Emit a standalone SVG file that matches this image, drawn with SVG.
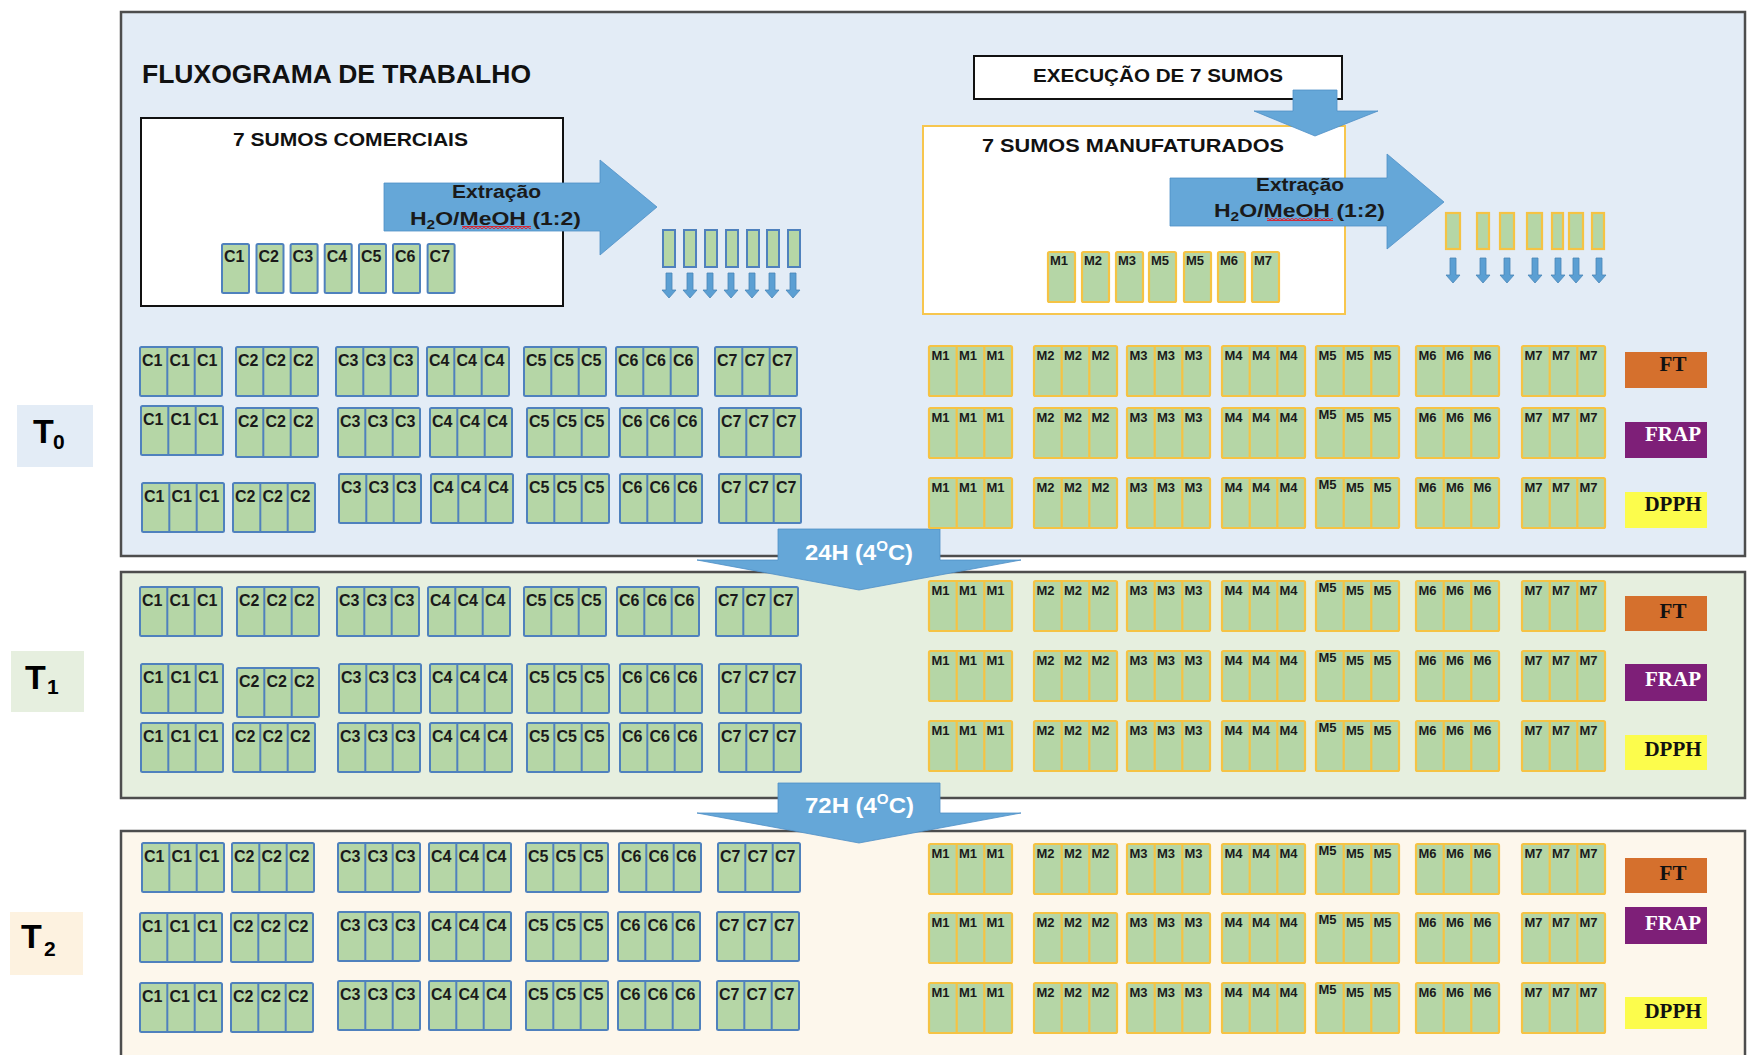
<svg xmlns="http://www.w3.org/2000/svg" xmlns:xlink="http://www.w3.org/1999/xlink" width="1748" height="1055" viewBox="0 0 1748 1055">
<style>
.pan{stroke:#4d4d4d;stroke-width:2.5}
.hd{font-family:'Liberation Sans',Arial,sans-serif;font-weight:bold;fill:#111}
.ct{font-family:'Liberation Sans',Arial,sans-serif;font-weight:bold;font-size:16px;fill:#1a1a1a}
.mt{font-family:'Liberation Sans',Arial,sans-serif;font-weight:bold;font-size:13px;fill:#1a1a1a}
.arr{fill:#65a7d8;stroke:#4f8fc6;stroke-width:0.8}
.at{font-family:'Liberation Sans',Arial,sans-serif;font-weight:bold;fill:#1a1a1a;font-size:18px}
.wt{font-family:'Liberation Sans',Arial,sans-serif;font-weight:bold;fill:#fff;font-size:22px}
.tl{font-family:'Liberation Sans',Arial,sans-serif;font-weight:bold;fill:#000}
.lb{font-family:'Liberation Serif','Times New Roman',serif;font-weight:bold;font-size:21px;text-anchor:middle}
.ctube{fill:#b5d6a6;stroke:#4f81bd;stroke-width:2}
.mtube{fill:#b5d6a6;stroke:#f5c344;stroke-width:2.2}
.sa{fill:#5b9fd3;stroke:#4a86b8;stroke-width:0.8}
</style>
<defs>
<g id="c3" fill="#b5d6a6" stroke="#4f81bd" stroke-width="2"><rect x="0" y="0" width="82" height="49" rx="1.5"/><line x1="27.3" y1="0" x2="27.3" y2="49"/><line x1="54.7" y1="0" x2="54.7" y2="49"/></g>
<g id="m3" fill="#b5d6a6" stroke="#f5c344" stroke-width="2.2"><rect x="0" y="0" width="83" height="50" rx="1.5"/><line x1="27.7" y1="0" x2="27.7" y2="50"/><line x1="55.3" y1="0" x2="55.3" y2="50"/></g>
<path id="da" d="M-3,0 H3 V17 H7 L0,25 L-7,17 H-3 Z"/>
<pattern id="wavy" width="4" height="3" patternUnits="userSpaceOnUse"><path d="M0,2.5 L2,0.5 L4,2.5" fill="none" stroke="#e8141c" stroke-width="1.3"/></pattern>
</defs>

<g id="panels">
<rect id="panel-t0" class="pan" x="121" y="12" width="1624" height="544" fill="#e3ecf6"/>
<rect id="panel-t1" class="pan" x="121" y="572" width="1624" height="226" fill="#e6efdf"/>
<rect id="panel-t2" class="pan" x="121" y="831" width="1624" height="232" fill="#fdf7ec"/>
</g>

<g id="tlabels">
<g id="label-t0"><rect x="17" y="405" width="76" height="62" fill="#e3ecf6"/><text class="tl" x="33" y="443" font-size="34">T</text><text class="tl" x="53" y="449" font-size="21">0</text></g>
<g id="label-t1"><rect x="11" y="651" width="73" height="61" fill="#e6efdf"/><text class="tl" x="25" y="689" font-size="34">T</text><text class="tl" x="47" y="694" font-size="21">1</text></g>
<g id="label-t2"><rect x="10" y="912" width="73" height="63" fill="#fdf2e0"/><text class="tl" x="21" y="948" font-size="34">T</text><text class="tl" x="44" y="956" font-size="21">2</text></g>
</g>

<text id="title" class="hd" x="142" y="83" font-size="25" textLength="389" lengthAdjust="spacingAndGlyphs">FLUXOGRAMA DE TRABALHO</text>

<g id="box-comerciais">
<rect x="141" y="118" width="422" height="188" fill="#fff" stroke="#111" stroke-width="2"/>
<text class="hd" x="233" y="146" font-size="18" textLength="235" lengthAdjust="spacingAndGlyphs">7 SUMOS COMERCIAIS</text>
<g id="tubes-c">
<rect class="ctube" x="222" y="244" width="27" height="49" rx="1.5"/><text class="ct" x="224" y="262">C1</text>
<rect class="ctube" x="256.5" y="244" width="27" height="49" rx="1.5"/><text class="ct" x="258.5" y="262">C2</text>
<rect class="ctube" x="290.6" y="244" width="27" height="49" rx="1.5"/><text class="ct" x="292.6" y="262">C3</text>
<rect class="ctube" x="324.7" y="244" width="27" height="49" rx="1.5"/><text class="ct" x="326.7" y="262">C4</text>
<rect class="ctube" x="359" y="244" width="27" height="49" rx="1.5"/><text class="ct" x="361" y="262">C5</text>
<rect class="ctube" x="393" y="244" width="27" height="49" rx="1.5"/><text class="ct" x="395" y="262">C6</text>
<rect class="ctube" x="427.6" y="244" width="27" height="49" rx="1.5"/><text class="ct" x="429.6" y="262">C7</text>
</g>
</g>

<g id="box-execucao">
<rect x="974" y="56" width="368" height="43" fill="#fff" stroke="#111" stroke-width="2"/>
<text class="hd" x="1033" y="82" font-size="18" textLength="250" lengthAdjust="spacingAndGlyphs">EXECUÇÃO DE 7 SUMOS</text>
</g>

<g id="box-manufaturados">
<rect x="923" y="126" width="422" height="188" fill="#fff" stroke="#f7c64e" stroke-width="2"/>
<text class="hd" x="982" y="152" font-size="18" textLength="302" lengthAdjust="spacingAndGlyphs">7 SUMOS MANUFATURADOS</text>
<g id="tubes-m">
<rect class="mtube" x="1048" y="252" width="27" height="50" rx="1.5"/><text class="mt" x="1050" y="265">M1</text>
<rect class="mtube" x="1082" y="252" width="27" height="50" rx="1.5"/><text class="mt" x="1084" y="265">M2</text>
<rect class="mtube" x="1116" y="252" width="27" height="50" rx="1.5"/><text class="mt" x="1118" y="265">M3</text>
<rect class="mtube" x="1149" y="252" width="27" height="50" rx="1.5"/><text class="mt" x="1151" y="265">M5</text>
<rect class="mtube" x="1184" y="252" width="27" height="50" rx="1.5"/><text class="mt" x="1186" y="265">M5</text>
<rect class="mtube" x="1218" y="252" width="27" height="50" rx="1.5"/><text class="mt" x="1220" y="265">M6</text>
<rect class="mtube" x="1252" y="252" width="27" height="50" rx="1.5"/><text class="mt" x="1254" y="265">M7</text>
</g>
</g>

<g id="extracts-c">
<rect class="ctube" x="663" y="230" width="12" height="37"/>
<rect class="ctube" x="684" y="230" width="12" height="37"/>
<rect class="ctube" x="705" y="230" width="12" height="37"/>
<rect class="ctube" x="726" y="230" width="12" height="37"/>
<rect class="ctube" x="747" y="230" width="12" height="37"/>
<rect class="ctube" x="767" y="230" width="12" height="37"/>
<rect class="ctube" x="788" y="230" width="12" height="37"/>
</g>
<g id="extracts-m">
<rect class="mtube" x="1446" y="213" width="14" height="36"/>
<rect class="mtube" x="1477" y="213" width="12" height="36"/>
<rect class="mtube" x="1500" y="213" width="14" height="36"/>
<rect class="mtube" x="1527" y="213" width="15" height="36"/>
<rect class="mtube" x="1552" y="213" width="11" height="36"/>
<rect class="mtube" x="1569" y="213" width="14" height="36"/>
<rect class="mtube" x="1592" y="213" width="12" height="36"/>
</g>

<g id="connectors">
<path id="arrow-extr-c" class="arr" d="M384,183 H600 V160 L657,207 L600,255 V231 H384 Z"/>
<path id="arrow-extr-m" class="arr" d="M1170,178 H1387 V154 L1444,202 L1387,249 V226 H1170 Z"/>
<path id="arrow-exec" class="arr" d="M1293,90 H1337 V111 H1378 L1315,136 L1254,111 H1293 Z"/>
<path id="arrow-24h" class="arr" d="M778,529 H940 V560 H1021 L859,590 L697,560 H778 Z"/>
<path id="arrow-72h" class="arr" d="M778,783 H940 V813 H1021 L859,843 L697,813 H778 Z"/>
<g id="small-arrows-c" class="sa">
<use href="#da" x="669" y="273"/><use href="#da" x="690" y="273"/><use href="#da" x="710" y="273"/><use href="#da" x="731" y="273"/><use href="#da" x="752" y="273"/><use href="#da" x="772" y="273"/><use href="#da" x="793" y="273"/>
</g>
<g id="small-arrows-m" class="sa">
<use href="#da" x="1453" y="258"/><use href="#da" x="1483" y="258"/><use href="#da" x="1507" y="258"/><use href="#da" x="1535" y="258"/><use href="#da" x="1558" y="258"/><use href="#da" x="1576" y="258"/><use href="#da" x="1599" y="258"/>
</g>
</g>

<g id="arrow-labels">
<text class="at" x="452" y="198" textLength="89" lengthAdjust="spacingAndGlyphs">Extração</text>
<text class="at" x="410" y="225" textLength="171" lengthAdjust="spacingAndGlyphs">H<tspan font-size="12" dy="4">2</tspan><tspan dy="-4">O/MeOH (1:2)</tspan></text>
<rect x="462" y="226" width="69" height="3" fill="url(#wavy)"/>
<text class="at" x="1256" y="191" textLength="88" lengthAdjust="spacingAndGlyphs">Extração</text>
<text class="at" x="1214" y="217" textLength="171" lengthAdjust="spacingAndGlyphs">H<tspan font-size="12" dy="4">2</tspan><tspan dy="-4">O/MeOH (1:2)</tspan></text>
<rect x="1267" y="218" width="66" height="3" fill="url(#wavy)"/>
<text class="wt" x="805" y="560" textLength="108" lengthAdjust="spacingAndGlyphs">24H (4<tspan font-size="14" dy="-9">O</tspan><tspan dy="9">C)</tspan></text>
<text class="wt" x="805" y="813" textLength="109" lengthAdjust="spacingAndGlyphs">72H (4<tspan font-size="14" dy="-9">O</tspan><tspan dy="9">C)</tspan></text>
</g>

<g id="grid-t0">
<g id="t0-r1-c1" transform="translate(140,347)"><use href="#c3"/><text class="ct" y="19"><tspan x="2">C1</tspan><tspan x="29.5">C1</tspan><tspan x="57">C1</tspan></text></g>
<g id="t0-r1-c2" transform="translate(236,347)"><use href="#c3"/><text class="ct" y="19"><tspan x="2">C2</tspan><tspan x="29.5">C2</tspan><tspan x="57">C2</tspan></text></g>
<g id="t0-r1-c3" transform="translate(336,347)"><use href="#c3"/><text class="ct" y="19"><tspan x="2">C3</tspan><tspan x="29.5">C3</tspan><tspan x="57">C3</tspan></text></g>
<g id="t0-r1-c4" transform="translate(427,347)"><use href="#c3"/><text class="ct" y="19"><tspan x="2">C4</tspan><tspan x="29.5">C4</tspan><tspan x="57">C4</tspan></text></g>
<g id="t0-r1-c5" transform="translate(524,347)"><use href="#c3"/><text class="ct" y="19"><tspan x="2">C5</tspan><tspan x="29.5">C5</tspan><tspan x="57">C5</tspan></text></g>
<g id="t0-r1-c6" transform="translate(616,347)"><use href="#c3"/><text class="ct" y="19"><tspan x="2">C6</tspan><tspan x="29.5">C6</tspan><tspan x="57">C6</tspan></text></g>
<g id="t0-r1-c7" transform="translate(715,347)"><use href="#c3"/><text class="ct" y="19"><tspan x="2">C7</tspan><tspan x="29.5">C7</tspan><tspan x="57">C7</tspan></text></g>
<g id="t0-r2-c1" transform="translate(141,406)"><use href="#c3"/><text class="ct" y="19"><tspan x="2">C1</tspan><tspan x="29.5">C1</tspan><tspan x="57">C1</tspan></text></g>
<g id="t0-r2-c2" transform="translate(236,408)"><use href="#c3"/><text class="ct" y="19"><tspan x="2">C2</tspan><tspan x="29.5">C2</tspan><tspan x="57">C2</tspan></text></g>
<g id="t0-r2-c3" transform="translate(338,408)"><use href="#c3"/><text class="ct" y="19"><tspan x="2">C3</tspan><tspan x="29.5">C3</tspan><tspan x="57">C3</tspan></text></g>
<g id="t0-r2-c4" transform="translate(430,408)"><use href="#c3"/><text class="ct" y="19"><tspan x="2">C4</tspan><tspan x="29.5">C4</tspan><tspan x="57">C4</tspan></text></g>
<g id="t0-r2-c5" transform="translate(527,408)"><use href="#c3"/><text class="ct" y="19"><tspan x="2">C5</tspan><tspan x="29.5">C5</tspan><tspan x="57">C5</tspan></text></g>
<g id="t0-r2-c6" transform="translate(620,408)"><use href="#c3"/><text class="ct" y="19"><tspan x="2">C6</tspan><tspan x="29.5">C6</tspan><tspan x="57">C6</tspan></text></g>
<g id="t0-r2-c7" transform="translate(719,408)"><use href="#c3"/><text class="ct" y="19"><tspan x="2">C7</tspan><tspan x="29.5">C7</tspan><tspan x="57">C7</tspan></text></g>
<g id="t0-r3-c1" transform="translate(142,483)"><use href="#c3"/><text class="ct" y="19"><tspan x="2">C1</tspan><tspan x="29.5">C1</tspan><tspan x="57">C1</tspan></text></g>
<g id="t0-r3-c2" transform="translate(233,483)"><use href="#c3"/><text class="ct" y="19"><tspan x="2">C2</tspan><tspan x="29.5">C2</tspan><tspan x="57">C2</tspan></text></g>
<g id="t0-r3-c3" transform="translate(339,474)"><use href="#c3"/><text class="ct" y="19"><tspan x="2">C3</tspan><tspan x="29.5">C3</tspan><tspan x="57">C3</tspan></text></g>
<g id="t0-r3-c4" transform="translate(431,474)"><use href="#c3"/><text class="ct" y="19"><tspan x="2">C4</tspan><tspan x="29.5">C4</tspan><tspan x="57">C4</tspan></text></g>
<g id="t0-r3-c5" transform="translate(527,474)"><use href="#c3"/><text class="ct" y="19"><tspan x="2">C5</tspan><tspan x="29.5">C5</tspan><tspan x="57">C5</tspan></text></g>
<g id="t0-r3-c6" transform="translate(620,474)"><use href="#c3"/><text class="ct" y="19"><tspan x="2">C6</tspan><tspan x="29.5">C6</tspan><tspan x="57">C6</tspan></text></g>
<g id="t0-r3-c7" transform="translate(719,474)"><use href="#c3"/><text class="ct" y="19"><tspan x="2">C7</tspan><tspan x="29.5">C7</tspan><tspan x="57">C7</tspan></text></g>

<g id="t0-r1-m1" transform="translate(929,346)"><use href="#m3"/><text class="mt" y="14"><tspan x="2.5">M1</tspan><tspan x="30">M1</tspan><tspan x="57.5">M1</tspan></text></g>
<g id="t0-r1-m2" transform="translate(1034,346)"><use href="#m3"/><text class="mt" y="14"><tspan x="2.5">M2</tspan><tspan x="30">M2</tspan><tspan x="57.5">M2</tspan></text></g>
<g id="t0-r1-m3" transform="translate(1127,346)"><use href="#m3"/><text class="mt" y="14"><tspan x="2.5">M3</tspan><tspan x="30">M3</tspan><tspan x="57.5">M3</tspan></text></g>
<g id="t0-r1-m4" transform="translate(1222,346)"><use href="#m3"/><text class="mt" y="14"><tspan x="2.5">M4</tspan><tspan x="30">M4</tspan><tspan x="57.5">M4</tspan></text></g>
<g id="t0-r1-m5" transform="translate(1316,346)"><use href="#m3"/><text class="mt" y="14"><tspan x="2.5">M5</tspan><tspan x="30">M5</tspan><tspan x="57.5">M5</tspan></text></g>
<g id="t0-r1-m6" transform="translate(1416,346)"><use href="#m3"/><text class="mt" y="14"><tspan x="2.5">M6</tspan><tspan x="30">M6</tspan><tspan x="57.5">M6</tspan></text></g>
<g id="t0-r1-m7" transform="translate(1522,346)"><use href="#m3"/><text class="mt" y="14"><tspan x="2.5">M7</tspan><tspan x="30">M7</tspan><tspan x="57.5">M7</tspan></text></g>
<g id="t0-r2-m1" transform="translate(929,408)"><use href="#m3"/><text class="mt" y="14"><tspan x="2.5">M1</tspan><tspan x="30">M1</tspan><tspan x="57.5">M1</tspan></text></g>
<g id="t0-r2-m2" transform="translate(1034,408)"><use href="#m3"/><text class="mt" y="14"><tspan x="2.5">M2</tspan><tspan x="30">M2</tspan><tspan x="57.5">M2</tspan></text></g>
<g id="t0-r2-m3" transform="translate(1127,408)"><use href="#m3"/><text class="mt" y="14"><tspan x="2.5">M3</tspan><tspan x="30">M3</tspan><tspan x="57.5">M3</tspan></text></g>
<g id="t0-r2-m4" transform="translate(1222,408)"><use href="#m3"/><text class="mt" y="14"><tspan x="2.5">M4</tspan><tspan x="30">M4</tspan><tspan x="57.5">M4</tspan></text></g>
<g id="t0-r2-m5" transform="translate(1316,408)"><use href="#m3"/><text class="mt" y="14"><tspan x="2.5" dy="-3">M5</tspan><tspan x="30" dy="3">M5</tspan><tspan x="57.5">M5</tspan></text></g>
<g id="t0-r2-m6" transform="translate(1416,408)"><use href="#m3"/><text class="mt" y="14"><tspan x="2.5">M6</tspan><tspan x="30">M6</tspan><tspan x="57.5">M6</tspan></text></g>
<g id="t0-r2-m7" transform="translate(1522,408)"><use href="#m3"/><text class="mt" y="14"><tspan x="2.5">M7</tspan><tspan x="30">M7</tspan><tspan x="57.5">M7</tspan></text></g>
<g id="t0-r3-m1" transform="translate(929,478)"><use href="#m3"/><text class="mt" y="14"><tspan x="2.5">M1</tspan><tspan x="30">M1</tspan><tspan x="57.5">M1</tspan></text></g>
<g id="t0-r3-m2" transform="translate(1034,478)"><use href="#m3"/><text class="mt" y="14"><tspan x="2.5">M2</tspan><tspan x="30">M2</tspan><tspan x="57.5">M2</tspan></text></g>
<g id="t0-r3-m3" transform="translate(1127,478)"><use href="#m3"/><text class="mt" y="14"><tspan x="2.5">M3</tspan><tspan x="30">M3</tspan><tspan x="57.5">M3</tspan></text></g>
<g id="t0-r3-m4" transform="translate(1222,478)"><use href="#m3"/><text class="mt" y="14"><tspan x="2.5">M4</tspan><tspan x="30">M4</tspan><tspan x="57.5">M4</tspan></text></g>
<g id="t0-r3-m5" transform="translate(1316,478)"><use href="#m3"/><text class="mt" y="14"><tspan x="2.5" dy="-3">M5</tspan><tspan x="30" dy="3">M5</tspan><tspan x="57.5">M5</tspan></text></g>
<g id="t0-r3-m6" transform="translate(1416,478)"><use href="#m3"/><text class="mt" y="14"><tspan x="2.5">M6</tspan><tspan x="30">M6</tspan><tspan x="57.5">M6</tspan></text></g>
<g id="t0-r3-m7" transform="translate(1522,478)"><use href="#m3"/><text class="mt" y="14"><tspan x="2.5">M7</tspan><tspan x="30">M7</tspan><tspan x="57.5">M7</tspan></text></g>

<g id="t0-ft"><rect x="1625" y="352" width="82" height="36" fill="#d5702d"/><text class="lb" x="1673" y="371" fill="#111">FT</text></g>
<g id="t0-frap"><rect x="1625" y="422" width="82" height="36" fill="#7e1f78"/><text class="lb" x="1673" y="441" fill="#fff">FRAP</text></g>
<g id="t0-dpph"><rect x="1625" y="492" width="82" height="36" fill="#fcfc4c"/><text class="lb" x="1673" y="511" fill="#111">DPPH</text></g>
</g>

<g id="grid-t1">
<g id="t1-r1-c1" transform="translate(140,587)"><use href="#c3"/><text class="ct" y="19"><tspan x="2">C1</tspan><tspan x="29.5">C1</tspan><tspan x="57">C1</tspan></text></g>
<g id="t1-r1-c2" transform="translate(237,587)"><use href="#c3"/><text class="ct" y="19"><tspan x="2">C2</tspan><tspan x="29.5">C2</tspan><tspan x="57">C2</tspan></text></g>
<g id="t1-r1-c3" transform="translate(337,587)"><use href="#c3"/><text class="ct" y="19"><tspan x="2">C3</tspan><tspan x="29.5">C3</tspan><tspan x="57">C3</tspan></text></g>
<g id="t1-r1-c4" transform="translate(428,587)"><use href="#c3"/><text class="ct" y="19"><tspan x="2">C4</tspan><tspan x="29.5">C4</tspan><tspan x="57">C4</tspan></text></g>
<g id="t1-r1-c5" transform="translate(524,587)"><use href="#c3"/><text class="ct" y="19"><tspan x="2">C5</tspan><tspan x="29.5">C5</tspan><tspan x="57">C5</tspan></text></g>
<g id="t1-r1-c6" transform="translate(617,587)"><use href="#c3"/><text class="ct" y="19"><tspan x="2">C6</tspan><tspan x="29.5">C6</tspan><tspan x="57">C6</tspan></text></g>
<g id="t1-r1-c7" transform="translate(716,587)"><use href="#c3"/><text class="ct" y="19"><tspan x="2">C7</tspan><tspan x="29.5">C7</tspan><tspan x="57">C7</tspan></text></g>
<g id="t1-r2-c1" transform="translate(141,664)"><use href="#c3"/><text class="ct" y="19"><tspan x="2">C1</tspan><tspan x="29.5">C1</tspan><tspan x="57">C1</tspan></text></g>
<g id="t1-r2-c2" transform="translate(237,668)"><use href="#c3"/><text class="ct" y="19"><tspan x="2">C2</tspan><tspan x="29.5">C2</tspan><tspan x="57">C2</tspan></text></g>
<g id="t1-r2-c3" transform="translate(339,664)"><use href="#c3"/><text class="ct" y="19"><tspan x="2">C3</tspan><tspan x="29.5">C3</tspan><tspan x="57">C3</tspan></text></g>
<g id="t1-r2-c4" transform="translate(430,664)"><use href="#c3"/><text class="ct" y="19"><tspan x="2">C4</tspan><tspan x="29.5">C4</tspan><tspan x="57">C4</tspan></text></g>
<g id="t1-r2-c5" transform="translate(527,664)"><use href="#c3"/><text class="ct" y="19"><tspan x="2">C5</tspan><tspan x="29.5">C5</tspan><tspan x="57">C5</tspan></text></g>
<g id="t1-r2-c6" transform="translate(620,664)"><use href="#c3"/><text class="ct" y="19"><tspan x="2">C6</tspan><tspan x="29.5">C6</tspan><tspan x="57">C6</tspan></text></g>
<g id="t1-r2-c7" transform="translate(719,664)"><use href="#c3"/><text class="ct" y="19"><tspan x="2">C7</tspan><tspan x="29.5">C7</tspan><tspan x="57">C7</tspan></text></g>
<g id="t1-r3-c1" transform="translate(141,723)"><use href="#c3"/><text class="ct" y="19"><tspan x="2">C1</tspan><tspan x="29.5">C1</tspan><tspan x="57">C1</tspan></text></g>
<g id="t1-r3-c2" transform="translate(233,723)"><use href="#c3"/><text class="ct" y="19"><tspan x="2">C2</tspan><tspan x="29.5">C2</tspan><tspan x="57">C2</tspan></text></g>
<g id="t1-r3-c3" transform="translate(338,723)"><use href="#c3"/><text class="ct" y="19"><tspan x="2">C3</tspan><tspan x="29.5">C3</tspan><tspan x="57">C3</tspan></text></g>
<g id="t1-r3-c4" transform="translate(430,723)"><use href="#c3"/><text class="ct" y="19"><tspan x="2">C4</tspan><tspan x="29.5">C4</tspan><tspan x="57">C4</tspan></text></g>
<g id="t1-r3-c5" transform="translate(527,723)"><use href="#c3"/><text class="ct" y="19"><tspan x="2">C5</tspan><tspan x="29.5">C5</tspan><tspan x="57">C5</tspan></text></g>
<g id="t1-r3-c6" transform="translate(620,723)"><use href="#c3"/><text class="ct" y="19"><tspan x="2">C6</tspan><tspan x="29.5">C6</tspan><tspan x="57">C6</tspan></text></g>
<g id="t1-r3-c7" transform="translate(719,723)"><use href="#c3"/><text class="ct" y="19"><tspan x="2">C7</tspan><tspan x="29.5">C7</tspan><tspan x="57">C7</tspan></text></g>

<g id="t1-r1-m1" transform="translate(929,581)"><use href="#m3"/><text class="mt" y="14"><tspan x="2.5">M1</tspan><tspan x="30">M1</tspan><tspan x="57.5">M1</tspan></text></g>
<g id="t1-r1-m2" transform="translate(1034,581)"><use href="#m3"/><text class="mt" y="14"><tspan x="2.5">M2</tspan><tspan x="30">M2</tspan><tspan x="57.5">M2</tspan></text></g>
<g id="t1-r1-m3" transform="translate(1127,581)"><use href="#m3"/><text class="mt" y="14"><tspan x="2.5">M3</tspan><tspan x="30">M3</tspan><tspan x="57.5">M3</tspan></text></g>
<g id="t1-r1-m4" transform="translate(1222,581)"><use href="#m3"/><text class="mt" y="14"><tspan x="2.5">M4</tspan><tspan x="30">M4</tspan><tspan x="57.5">M4</tspan></text></g>
<g id="t1-r1-m5" transform="translate(1316,581)"><use href="#m3"/><text class="mt" y="14"><tspan x="2.5" dy="-3">M5</tspan><tspan x="30" dy="3">M5</tspan><tspan x="57.5">M5</tspan></text></g>
<g id="t1-r1-m6" transform="translate(1416,581)"><use href="#m3"/><text class="mt" y="14"><tspan x="2.5">M6</tspan><tspan x="30">M6</tspan><tspan x="57.5">M6</tspan></text></g>
<g id="t1-r1-m7" transform="translate(1522,581)"><use href="#m3"/><text class="mt" y="14"><tspan x="2.5">M7</tspan><tspan x="30">M7</tspan><tspan x="57.5">M7</tspan></text></g>
<g id="t1-r2-m1" transform="translate(929,651)"><use href="#m3"/><text class="mt" y="14"><tspan x="2.5">M1</tspan><tspan x="30">M1</tspan><tspan x="57.5">M1</tspan></text></g>
<g id="t1-r2-m2" transform="translate(1034,651)"><use href="#m3"/><text class="mt" y="14"><tspan x="2.5">M2</tspan><tspan x="30">M2</tspan><tspan x="57.5">M2</tspan></text></g>
<g id="t1-r2-m3" transform="translate(1127,651)"><use href="#m3"/><text class="mt" y="14"><tspan x="2.5">M3</tspan><tspan x="30">M3</tspan><tspan x="57.5">M3</tspan></text></g>
<g id="t1-r2-m4" transform="translate(1222,651)"><use href="#m3"/><text class="mt" y="14"><tspan x="2.5">M4</tspan><tspan x="30">M4</tspan><tspan x="57.5">M4</tspan></text></g>
<g id="t1-r2-m5" transform="translate(1316,651)"><use href="#m3"/><text class="mt" y="14"><tspan x="2.5" dy="-3">M5</tspan><tspan x="30" dy="3">M5</tspan><tspan x="57.5">M5</tspan></text></g>
<g id="t1-r2-m6" transform="translate(1416,651)"><use href="#m3"/><text class="mt" y="14"><tspan x="2.5">M6</tspan><tspan x="30">M6</tspan><tspan x="57.5">M6</tspan></text></g>
<g id="t1-r2-m7" transform="translate(1522,651)"><use href="#m3"/><text class="mt" y="14"><tspan x="2.5">M7</tspan><tspan x="30">M7</tspan><tspan x="57.5">M7</tspan></text></g>
<g id="t1-r3-m1" transform="translate(929,721)"><use href="#m3"/><text class="mt" y="14"><tspan x="2.5">M1</tspan><tspan x="30">M1</tspan><tspan x="57.5">M1</tspan></text></g>
<g id="t1-r3-m2" transform="translate(1034,721)"><use href="#m3"/><text class="mt" y="14"><tspan x="2.5">M2</tspan><tspan x="30">M2</tspan><tspan x="57.5">M2</tspan></text></g>
<g id="t1-r3-m3" transform="translate(1127,721)"><use href="#m3"/><text class="mt" y="14"><tspan x="2.5">M3</tspan><tspan x="30">M3</tspan><tspan x="57.5">M3</tspan></text></g>
<g id="t1-r3-m4" transform="translate(1222,721)"><use href="#m3"/><text class="mt" y="14"><tspan x="2.5">M4</tspan><tspan x="30">M4</tspan><tspan x="57.5">M4</tspan></text></g>
<g id="t1-r3-m5" transform="translate(1316,721)"><use href="#m3"/><text class="mt" y="14"><tspan x="2.5" dy="-3">M5</tspan><tspan x="30" dy="3">M5</tspan><tspan x="57.5">M5</tspan></text></g>
<g id="t1-r3-m6" transform="translate(1416,721)"><use href="#m3"/><text class="mt" y="14"><tspan x="2.5">M6</tspan><tspan x="30">M6</tspan><tspan x="57.5">M6</tspan></text></g>
<g id="t1-r3-m7" transform="translate(1522,721)"><use href="#m3"/><text class="mt" y="14"><tspan x="2.5">M7</tspan><tspan x="30">M7</tspan><tspan x="57.5">M7</tspan></text></g>

<g id="t1-ft"><rect x="1625" y="596" width="82" height="35" fill="#d5702d"/><text class="lb" x="1673" y="618" fill="#111">FT</text></g>
<g id="t1-frap"><rect x="1625" y="664" width="82" height="37" fill="#7e1f78"/><text class="lb" x="1673" y="686" fill="#fff">FRAP</text></g>
<g id="t1-dpph"><rect x="1625" y="735" width="82" height="35" fill="#fcfc4c"/><text class="lb" x="1673" y="756" fill="#111">DPPH</text></g>
</g>

<g id="grid-t2">
<g id="t2-r1-c1" transform="translate(142,843)"><use href="#c3"/><text class="ct" y="19"><tspan x="2">C1</tspan><tspan x="29.5">C1</tspan><tspan x="57">C1</tspan></text></g>
<g id="t2-r1-c2" transform="translate(232,843)"><use href="#c3"/><text class="ct" y="19"><tspan x="2">C2</tspan><tspan x="29.5">C2</tspan><tspan x="57">C2</tspan></text></g>
<g id="t2-r1-c3" transform="translate(338,843)"><use href="#c3"/><text class="ct" y="19"><tspan x="2">C3</tspan><tspan x="29.5">C3</tspan><tspan x="57">C3</tspan></text></g>
<g id="t2-r1-c4" transform="translate(429,843)"><use href="#c3"/><text class="ct" y="19"><tspan x="2">C4</tspan><tspan x="29.5">C4</tspan><tspan x="57">C4</tspan></text></g>
<g id="t2-r1-c5" transform="translate(526,843)"><use href="#c3"/><text class="ct" y="19"><tspan x="2">C5</tspan><tspan x="29.5">C5</tspan><tspan x="57">C5</tspan></text></g>
<g id="t2-r1-c6" transform="translate(619,843)"><use href="#c3"/><text class="ct" y="19"><tspan x="2">C6</tspan><tspan x="29.5">C6</tspan><tspan x="57">C6</tspan></text></g>
<g id="t2-r1-c7" transform="translate(718,843)"><use href="#c3"/><text class="ct" y="19"><tspan x="2">C7</tspan><tspan x="29.5">C7</tspan><tspan x="57">C7</tspan></text></g>
<g id="t2-r2-c1" transform="translate(140,913)"><use href="#c3"/><text class="ct" y="19"><tspan x="2">C1</tspan><tspan x="29.5">C1</tspan><tspan x="57">C1</tspan></text></g>
<g id="t2-r2-c2" transform="translate(231,913)"><use href="#c3"/><text class="ct" y="19"><tspan x="2">C2</tspan><tspan x="29.5">C2</tspan><tspan x="57">C2</tspan></text></g>
<g id="t2-r2-c3" transform="translate(338,912)"><use href="#c3"/><text class="ct" y="19"><tspan x="2">C3</tspan><tspan x="29.5">C3</tspan><tspan x="57">C3</tspan></text></g>
<g id="t2-r2-c4" transform="translate(429,912)"><use href="#c3"/><text class="ct" y="19"><tspan x="2">C4</tspan><tspan x="29.5">C4</tspan><tspan x="57">C4</tspan></text></g>
<g id="t2-r2-c5" transform="translate(526,912)"><use href="#c3"/><text class="ct" y="19"><tspan x="2">C5</tspan><tspan x="29.5">C5</tspan><tspan x="57">C5</tspan></text></g>
<g id="t2-r2-c6" transform="translate(618,912)"><use href="#c3"/><text class="ct" y="19"><tspan x="2">C6</tspan><tspan x="29.5">C6</tspan><tspan x="57">C6</tspan></text></g>
<g id="t2-r2-c7" transform="translate(717,912)"><use href="#c3"/><text class="ct" y="19"><tspan x="2">C7</tspan><tspan x="29.5">C7</tspan><tspan x="57">C7</tspan></text></g>
<g id="t2-r3-c1" transform="translate(140,983)"><use href="#c3"/><text class="ct" y="19"><tspan x="2">C1</tspan><tspan x="29.5">C1</tspan><tspan x="57">C1</tspan></text></g>
<g id="t2-r3-c2" transform="translate(231,983)"><use href="#c3"/><text class="ct" y="19"><tspan x="2">C2</tspan><tspan x="29.5">C2</tspan><tspan x="57">C2</tspan></text></g>
<g id="t2-r3-c3" transform="translate(338,981)"><use href="#c3"/><text class="ct" y="19"><tspan x="2">C3</tspan><tspan x="29.5">C3</tspan><tspan x="57">C3</tspan></text></g>
<g id="t2-r3-c4" transform="translate(429,981)"><use href="#c3"/><text class="ct" y="19"><tspan x="2">C4</tspan><tspan x="29.5">C4</tspan><tspan x="57">C4</tspan></text></g>
<g id="t2-r3-c5" transform="translate(526,981)"><use href="#c3"/><text class="ct" y="19"><tspan x="2">C5</tspan><tspan x="29.5">C5</tspan><tspan x="57">C5</tspan></text></g>
<g id="t2-r3-c6" transform="translate(618,981)"><use href="#c3"/><text class="ct" y="19"><tspan x="2">C6</tspan><tspan x="29.5">C6</tspan><tspan x="57">C6</tspan></text></g>
<g id="t2-r3-c7" transform="translate(717,981)"><use href="#c3"/><text class="ct" y="19"><tspan x="2">C7</tspan><tspan x="29.5">C7</tspan><tspan x="57">C7</tspan></text></g>

<g id="t2-r1-m1" transform="translate(929,844)"><use href="#m3"/><text class="mt" y="14"><tspan x="2.5">M1</tspan><tspan x="30">M1</tspan><tspan x="57.5">M1</tspan></text></g>
<g id="t2-r1-m2" transform="translate(1034,844)"><use href="#m3"/><text class="mt" y="14"><tspan x="2.5">M2</tspan><tspan x="30">M2</tspan><tspan x="57.5">M2</tspan></text></g>
<g id="t2-r1-m3" transform="translate(1127,844)"><use href="#m3"/><text class="mt" y="14"><tspan x="2.5">M3</tspan><tspan x="30">M3</tspan><tspan x="57.5">M3</tspan></text></g>
<g id="t2-r1-m4" transform="translate(1222,844)"><use href="#m3"/><text class="mt" y="14"><tspan x="2.5">M4</tspan><tspan x="30">M4</tspan><tspan x="57.5">M4</tspan></text></g>
<g id="t2-r1-m5" transform="translate(1316,844)"><use href="#m3"/><text class="mt" y="14"><tspan x="2.5" dy="-3">M5</tspan><tspan x="30" dy="3">M5</tspan><tspan x="57.5">M5</tspan></text></g>
<g id="t2-r1-m6" transform="translate(1416,844)"><use href="#m3"/><text class="mt" y="14"><tspan x="2.5">M6</tspan><tspan x="30">M6</tspan><tspan x="57.5">M6</tspan></text></g>
<g id="t2-r1-m7" transform="translate(1522,844)"><use href="#m3"/><text class="mt" y="14"><tspan x="2.5">M7</tspan><tspan x="30">M7</tspan><tspan x="57.5">M7</tspan></text></g>
<g id="t2-r2-m1" transform="translate(929,913)"><use href="#m3"/><text class="mt" y="14"><tspan x="2.5">M1</tspan><tspan x="30">M1</tspan><tspan x="57.5">M1</tspan></text></g>
<g id="t2-r2-m2" transform="translate(1034,913)"><use href="#m3"/><text class="mt" y="14"><tspan x="2.5">M2</tspan><tspan x="30">M2</tspan><tspan x="57.5">M2</tspan></text></g>
<g id="t2-r2-m3" transform="translate(1127,913)"><use href="#m3"/><text class="mt" y="14"><tspan x="2.5">M3</tspan><tspan x="30">M3</tspan><tspan x="57.5">M3</tspan></text></g>
<g id="t2-r2-m4" transform="translate(1222,913)"><use href="#m3"/><text class="mt" y="14"><tspan x="2.5">M4</tspan><tspan x="30">M4</tspan><tspan x="57.5">M4</tspan></text></g>
<g id="t2-r2-m5" transform="translate(1316,913)"><use href="#m3"/><text class="mt" y="14"><tspan x="2.5" dy="-3">M5</tspan><tspan x="30" dy="3">M5</tspan><tspan x="57.5">M5</tspan></text></g>
<g id="t2-r2-m6" transform="translate(1416,913)"><use href="#m3"/><text class="mt" y="14"><tspan x="2.5">M6</tspan><tspan x="30">M6</tspan><tspan x="57.5">M6</tspan></text></g>
<g id="t2-r2-m7" transform="translate(1522,913)"><use href="#m3"/><text class="mt" y="14"><tspan x="2.5">M7</tspan><tspan x="30">M7</tspan><tspan x="57.5">M7</tspan></text></g>
<g id="t2-r3-m1" transform="translate(929,983)"><use href="#m3"/><text class="mt" y="14"><tspan x="2.5">M1</tspan><tspan x="30">M1</tspan><tspan x="57.5">M1</tspan></text></g>
<g id="t2-r3-m2" transform="translate(1034,983)"><use href="#m3"/><text class="mt" y="14"><tspan x="2.5">M2</tspan><tspan x="30">M2</tspan><tspan x="57.5">M2</tspan></text></g>
<g id="t2-r3-m3" transform="translate(1127,983)"><use href="#m3"/><text class="mt" y="14"><tspan x="2.5">M3</tspan><tspan x="30">M3</tspan><tspan x="57.5">M3</tspan></text></g>
<g id="t2-r3-m4" transform="translate(1222,983)"><use href="#m3"/><text class="mt" y="14"><tspan x="2.5">M4</tspan><tspan x="30">M4</tspan><tspan x="57.5">M4</tspan></text></g>
<g id="t2-r3-m5" transform="translate(1316,983)"><use href="#m3"/><text class="mt" y="14"><tspan x="2.5" dy="-3">M5</tspan><tspan x="30" dy="3">M5</tspan><tspan x="57.5">M5</tspan></text></g>
<g id="t2-r3-m6" transform="translate(1416,983)"><use href="#m3"/><text class="mt" y="14"><tspan x="2.5">M6</tspan><tspan x="30">M6</tspan><tspan x="57.5">M6</tspan></text></g>
<g id="t2-r3-m7" transform="translate(1522,983)"><use href="#m3"/><text class="mt" y="14"><tspan x="2.5">M7</tspan><tspan x="30">M7</tspan><tspan x="57.5">M7</tspan></text></g>

<g id="t2-ft"><rect x="1625" y="858" width="82" height="35" fill="#d5702d"/><text class="lb" x="1673" y="880" fill="#111">FT</text></g>
<g id="t2-frap"><rect x="1625" y="907" width="82" height="37" fill="#7e1f78"/><text class="lb" x="1673" y="930" fill="#fff">FRAP</text></g>
<g id="t2-dpph"><rect x="1625" y="997" width="82" height="32" fill="#fcfc4c"/><text class="lb" x="1673" y="1018" fill="#111">DPPH</text></g>
</g>
</svg>
